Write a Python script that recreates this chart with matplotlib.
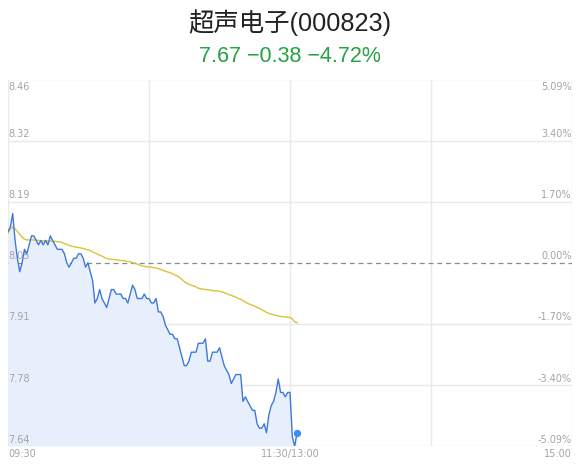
import matplotlib
matplotlib.use("Agg")
import matplotlib.pyplot as plt
import numpy as np

plt.rcParams['font.family'] = ['Noto Sans CJK SC', 'DejaVu Sans']

title = "超声电子(000823)"
subtitle = "7.67 −0.38 −4.72%"
prev_close = 8.05
price_ticks = ["8.46", "8.32", "8.19", "8.05", "7.91", "7.78", "7.64"]
pct_ticks = ["5.09%", "3.40%", "1.70%", "0.00%", "-1.70%", "-3.40%", "-5.09%"]
time_labels = ["09:30", "11:30/13:00", "15:00"]

price = [8.12, 8.13, 8.16, 8.10, 8.06, 8.03, 8.05, 8.08, 8.07, 8.09,
         8.11, 8.11, 8.10, 8.09, 8.10, 8.09, 8.10, 8.09, 8.11, 8.10,
         8.09, 8.08, 8.08, 8.08, 8.07, 8.05, 8.04, 8.05, 8.06, 8.06,
         8.07, 8.07, 8.06, 8.04, 8.05, 8.03, 8.01, 7.96, 7.97, 7.99,
         7.97, 7.96, 7.95, 7.97, 7.99, 7.99, 7.98, 7.98, 7.98, 7.97,
         7.97, 7.96, 7.98, 8.00, 7.99, 7.97, 7.97, 7.97, 7.98, 7.97,
         7.97, 7.96, 7.96, 7.97, 7.94, 7.94, 7.93, 7.91, 7.90, 7.89,
         7.89, 7.88, 7.88, 7.86, 7.84, 7.82, 7.82, 7.83, 7.85, 7.85,
         7.85, 7.87, 7.87, 7.87, 7.88, 7.83, 7.83, 7.85, 7.85, 7.85,
         7.86, 7.84, 7.82, 7.81, 7.80, 7.78, 7.79, 7.80, 7.80, 7.80,
         7.74, 7.75, 7.74, 7.73, 7.72, 7.72, 7.69, 7.68, 7.68, 7.69,
         7.67, 7.71, 7.73, 7.74, 7.76, 7.79, 7.76, 7.76, 7.75, 7.76,
         7.76, 7.66, 7.64, 7.67]

avg = [8.116, 8.125, 8.130, 8.126, 8.120, 8.114, 8.107, 8.103, 8.101, 8.101,
       8.101, 8.101, 8.100, 8.100, 8.099, 8.099, 8.099, 8.099, 8.099, 8.098,
       8.098, 8.097, 8.097, 8.095, 8.093, 8.091, 8.089, 8.087, 8.086, 8.085,
       8.084, 8.083, 8.082, 8.080, 8.079, 8.077, 8.074, 8.072, 8.069, 8.067,
       8.065, 8.062, 8.060, 8.058, 8.058, 8.057, 8.057, 8.056, 8.055, 8.055,
       8.054, 8.053, 8.052, 8.050, 8.049, 8.047, 8.045, 8.043, 8.042, 8.041,
       8.041, 8.040, 8.039, 8.038, 8.037, 8.035, 8.033, 8.031, 8.029, 8.028,
       8.025, 8.023, 8.020, 8.017, 8.013, 8.008, 8.004, 8.002, 8.000, 7.998,
       7.996, 7.993, 7.992, 7.991, 7.990, 7.990, 7.989, 7.988, 7.987, 7.987,
       7.986, 7.985, 7.983, 7.981, 7.979, 7.977, 7.975, 7.973, 7.970, 7.968,
       7.965, 7.962, 7.959, 7.957, 7.955, 7.953, 7.950, 7.948, 7.945, 7.942,
       7.939, 7.937, 7.935, 7.934, 7.932, 7.931, 7.930, 7.929, 7.929, 7.928,
       7.928, 7.924, 7.918, 7.916]

n_total = 241
pct_max = 0.0509
y_top = prev_close * (1 + pct_max)
y_bot = prev_close * (1 - pct_max)

W, H = 580, 467
fig = plt.figure(figsize=(W / 100, H / 100), dpi=100)
ax = fig.add_axes([8 / W, 1 - 446 / H, 564 / W, (446 - 79.5) / H])
ax.set_xlim(0, n_total - 1)
ax.set_ylim(y_bot, y_top)
for s in ax.spines.values():
    s.set_visible(False)
ax.set_xticks([])
ax.set_yticks([])

grid_c = "#e9e9ee"
levels = np.linspace(y_top, y_bot, 7)
for i, lv in enumerate(levels):
    if i == 3:
        ax.axhline(lv, color="#8a8a8a", lw=0.9, ls=(0, (4, 3)), zorder=2)
    else:
        ax.axhline(lv, color=grid_c, lw=1.0, zorder=1)
for xv in np.linspace(0, n_total - 1, 5):
    ax.axvline(xv, color=grid_c, lw=1.0, zorder=1)

x = np.arange(len(price))
ax.fill_between(x, price, y_bot, color="#e8effc", zorder=2, lw=0)
ax.plot(x, avg, color="#d9c33a", lw=1.0, zorder=3)
ax.plot(x, price, color="#3f78da", lw=1.0, zorder=4)
ax.scatter([x[-1]], [price[-1]], s=28, color="#3a8ff2", zorder=5, lw=0)

lab_c = "#a3a3ab"
fs = 7
for i, lv in enumerate(levels):
    va = "top" if i == 0 else "bottom"
    off = -1.5 if i == 0 else 1.0
    ax.annotate(price_ticks[i], (0, lv), xytext=(0, off), textcoords="offset points",
                ha="left", va=va, fontsize=fs, color=lab_c, family="DejaVu Sans")
    ax.annotate(pct_ticks[i], (n_total - 1, lv), xytext=(0, off), textcoords="offset points",
                ha="right", va=va, fontsize=fs, color=lab_c, family="DejaVu Sans")

tx = [0, 120, n_total - 1]
has = ["left", "center", "right"]
for t, lab, ha in zip(tx, time_labels, has):
    ax.annotate(lab, (t, y_bot), xytext=(0, -2.5), textcoords="offset points",
                ha=ha, va="top", fontsize=fs, color=lab_c, family="DejaVu Sans")

fig.text(0.5, 1 - 22.5 / H, title, ha="center", va="center", fontsize=18.3, color="#222222",
         family=["Liberation Sans", "Noto Sans CJK SC", "DejaVu Sans"])
fig.text(0.5, 1 - 57 / H, subtitle, ha="center", va="center", fontsize=15.5, color="#25a244",
         family=["Liberation Sans", "DejaVu Sans"])

fig.savefig("out.png", dpi=100)
